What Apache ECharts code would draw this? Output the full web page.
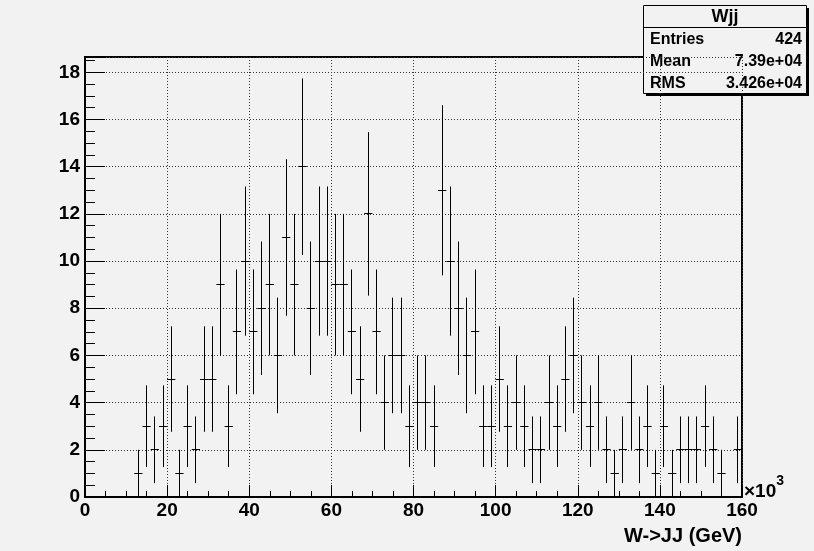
<!DOCTYPE html>
<html>
<head>
<meta charset="utf-8">
<script src="https://cdn.jsdelivr.net/npm/echarts@6/dist/echarts.min.js"></script>
<style>
  html, body { margin: 0; padding: 0; background: #f2f2f2; }
  #main { width: 814px; height: 551px; }
</style>
</head>
<body>
<div id="main"></div>
<script>
// bin centres (x10^3 GeV), bin width 2; empty bins left out
const binCenters = [13, 15, 17, 19, 21, 23, 25, 27, 29, 31, 33, 35, 37, 39, 41, 43, 45, 47, 49, 51,
    53, 55, 57, 59, 61, 63, 65, 67, 69, 71, 73, 75, 77, 79, 81, 83, 85, 87, 89, 91,
    93, 95, 97, 99, 101, 103, 105, 107, 109, 111, 113, 115, 117, 119, 121, 123, 125, 127, 129, 131,
    133, 135, 137, 139, 141, 143, 145, 147, 149, 151, 153, 155, 159];
const counts = [1, 3, 2, 3, 5, 1, 3, 2, 5, 5, 9, 3, 7, 10, 7, 8, 9, 6, 11, 9,
    14, 8, 10, 10, 9, 9, 7, 5, 12, 7, 4, 6, 6, 3, 4, 4, 3, 13, 10, 8,
    6, 7, 3, 3, 5, 3, 4, 3, 2, 2, 4, 3, 5, 6, 4, 3, 4, 2, 1, 2,
    4, 2, 3, 1, 3, 1, 2, 2, 2, 3, 2, 1, 2];
const binWidth = 2;
const statsLabels = ['Entries', 'Mean', 'RMS'];
const statsValues = ['424', '7.39e+04', '3.426e+04'];

const chart = echarts.init(document.getElementById('main'));

const font = 'Liberation Sans, Arial, Helvetica, sans-serif';

// stats box (ROOT style, with drop shadow)
const statsBox = [
    { type: 'rect', shape: { x: 646, y: 8, width: 163, height: 88 }, style: { fill: '#000' } },
    { type: 'rect', shape: { x: 643.5, y: 5.5, width: 163, height: 88 }, style: { fill: '#f2f2f2', stroke: '#000', lineWidth: 1 } },
    { type: 'line', shape: { x1: 643.5, y1: 27.5, x2: 806.5, y2: 27.5 }, style: { stroke: '#000', lineWidth: 1 } },
    { type: 'text', x: 725, y: 17, style: { text: 'Wjj', font: 'bold 18px ' + font, fill: '#000', textAlign: 'center', textVerticalAlign: 'middle' } }
];
statsLabels.forEach(function (lab, i) {
    statsBox.push({ type: 'text', x: 650, y: 40 + i * 22, style: { text: lab, font: 'bold 16px ' + font, fill: '#000', textAlign: 'left', textVerticalAlign: 'middle' } });
    statsBox.push({ type: 'text', x: 802, y: 40 + i * 22, style: { text: statsValues[i], font: 'bold 16px ' + font, fill: '#000', textAlign: 'right', textVerticalAlign: 'middle' } });
});

// snap to pixel centre so 1px lines stay dark
function px(v) { return Math.round(v - 0.5) + 0.5; }

const option = {
    backgroundColor: '#f2f2f2',
    animation: false,
    grid: {
        left: 85, right: 72, top: 57, bottom: 54,
        show: true,
        borderColor: '#000',
        borderWidth: 2,
        backgroundColor: '#f2f2f2'
    },
    xAxis: {
        type: 'value',
        min: 0, max: 160, interval: 20,
        axisLine: { onZero: false, lineStyle: { color: '#000', width: 2 } },
        axisTick: { inside: true, length: 12, lineStyle: { color: '#000' } },
        minorTick: { show: true, splitNumber: 4, length: 6, lineStyle: { color: '#000' } },
        axisLabel: { color: '#000', fontSize: 19, fontWeight: 'bold', fontFamily: font, margin: 4 },
        splitLine: { show: true, lineStyle: { color: '#333', type: [1, 2], width: 1 } }
    },
    yAxis: {
        type: 'value',
        min: 0, max: 18.65, interval: 2,
        axisLine: { show: true, lineStyle: { color: '#000', width: 2 } },
        axisTick: { inside: true, length: 20, lineStyle: { color: '#000' } },
        minorTick: { show: true, splitNumber: 4, length: 10, lineStyle: { color: '#000' } },
        axisLabel: {
            color: '#000', fontSize: 19, fontWeight: 'bold', fontFamily: font, margin: 5,
            showMaxLabel: false,
            formatter: function (v) { return v % 2 === 0 ? String(v) : ''; }
        },
        splitLine: { show: true, lineStyle: { color: '#333', type: [1, 2], width: 1 } }
    },
    series: [{
        type: 'custom',
        clip: true,
        data: binCenters.map(function (x, i) { return [x, counts[i]]; }),
        renderItem: function (params, api) {
            const x = api.value(0);
            const y = api.value(1);
            const err = Math.sqrt(y);
            const lo = api.coord([x, y - err]);
            const hi = api.coord([x, y + err]);
            const left = api.coord([x - binWidth / 2, y]);
            const right = api.coord([x + binWidth / 2, y]);
            const st = { stroke: '#000', lineWidth: 1 };
            const cx = px(lo[0]);
            const cy = px(left[1]);
            return {
                type: 'group',
                children: [
                    { type: 'line', shape: { x1: cx, y1: lo[1], x2: cx, y2: hi[1] }, style: st },
                    { type: 'line', shape: { x1: left[0], y1: cy, x2: right[0], y2: cy }, style: st }
                ]
            };
        }
    }],
    graphic: [
        {
            type: 'text', left: 744, top: 474,
            style: {
                text: '{a|×10}{b|3}',
                rich: {
                    a: { font: 'bold 19px ' + font, fill: '#000', padding: [8, 0, 0, 0] },
                    b: { font: 'bold 14px ' + font, fill: '#000', verticalAlign: 'top' }
                }
            }
        },
        {
            type: 'text', x: 742, y: 536,
            style: { text: 'W->JJ (GeV)', font: 'bold 20px ' + font, fill: '#000', textAlign: 'right', textVerticalAlign: 'middle' }
        }
    ].concat(statsBox)
};

chart.setOption(option);
</script>
</body>
</html>
